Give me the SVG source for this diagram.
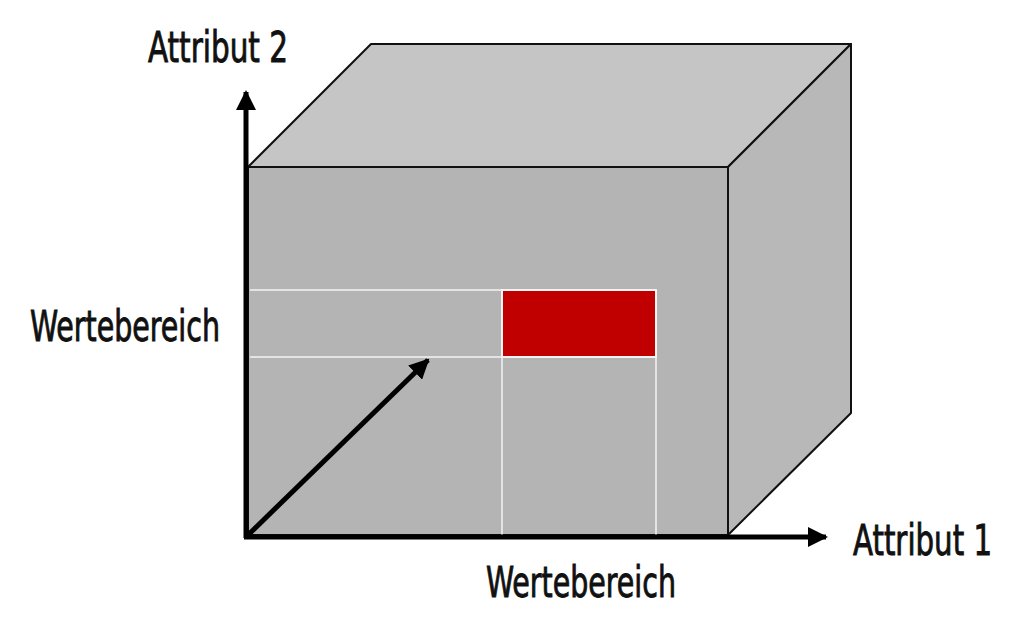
<svg xmlns="http://www.w3.org/2000/svg" width="1024" height="637" viewBox="0 0 1024 637">
<style>
.lbl{font-family:"DejaVu Sans Condensed","Liberation Sans",sans-serif;font-size:43px;fill:#111;stroke:#111;stroke-width:0.9;}
.edge{stroke:#111;stroke-width:2;stroke-linejoin:round;}
.grid{stroke:#f4f4f4;stroke-width:1.5;fill:none;}
.axis{stroke:#000;stroke-width:5;fill:none;}
</style>
<defs>
<marker id="ah" viewBox="0 0 10 10" refX="9" refY="5" markerWidth="4" markerHeight="4" orient="auto" markerUnits="strokeWidth">
<path d="M0,0 L10,5 L0,10 z" fill="#000"/>
</marker>
</defs>
<rect width="1024" height="637" fill="#fff"/>
<g id="cube">
<polygon class="edge" points="248,167 371,44 851,44 728,167" fill="#c5c5c5"/>
<polygon class="edge" points="728,167 851,44 851,413 728,535" fill="#b8b8b8"/>
<rect class="edge" x="248" y="167" width="480" height="368" fill="#b4b4b4"/>
</g>
<g id="grid">
<line class="grid" x1="250" y1="290" x2="656" y2="290"/>
<line class="grid" x1="250" y1="357" x2="656" y2="357"/>
<line class="grid" x1="502" y1="290" x2="502" y2="535"/>
<line class="grid" x1="656" y1="290" x2="656" y2="535"/>
</g>
<g id="cell">
<rect x="502" y="290" width="154" height="67" fill="#c00000" stroke="#f4f4f4" stroke-width="2"/>
</g>
<g id="connectors">
<line class="axis" x1="246" y1="538" x2="246" y2="92" marker-end="url(#ah)"/>
<line class="axis" x1="244" y1="537" x2="826" y2="537" marker-end="url(#ah)"/>
<line class="axis" x1="248" y1="535" x2="428" y2="360" marker-end="url(#ah)"/>
</g>
<g id="labels">
<text class="lbl" x="148" y="62" textLength="140" lengthAdjust="spacingAndGlyphs">Attribut 2</text>
<text class="lbl" x="30" y="341" textLength="190" lengthAdjust="spacingAndGlyphs">Wertebereich</text>
<text class="lbl" x="992" y="555" text-anchor="end" textLength="139" lengthAdjust="spacingAndGlyphs">Attribut 1</text>
<text class="lbl" x="486" y="597" textLength="190" lengthAdjust="spacingAndGlyphs">Wertebereich</text>
</g>
</svg>
